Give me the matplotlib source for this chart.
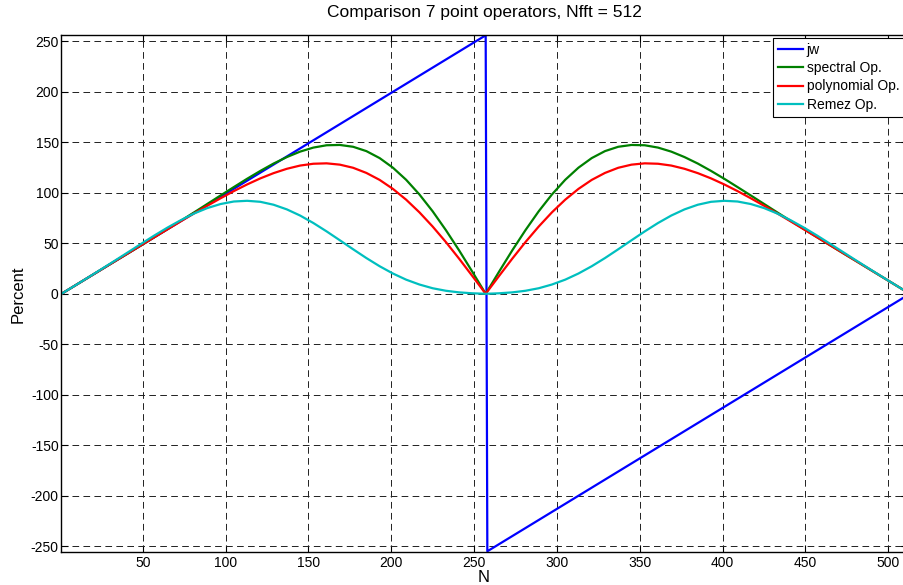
import matplotlib
matplotlib.use('Agg')
import matplotlib.pyplot as plt

# ---- data ----
title_text = 'Comparison 7 point operators, Nfft = 512'
xlabel_text = 'N'
ylabel_text = 'Percent'

N_jw = [1, 257, 258, 512]
jw = [0, 256, -255, -1]

N_ops = [1, 9, 17, 25, 33, 41, 49, 57, 65, 73, 81, 89, 97, 105, 113, 121, 129, 137, 145,
         153, 161, 169, 177, 185, 193, 201, 209, 217, 225, 233, 241, 249, 257,
         265, 273, 281, 289, 297, 305, 313, 321, 329, 337, 345, 353, 361, 369, 377, 385,
         393, 401, 409, 417, 425, 433, 441, 449, 457, 465, 473, 481, 489, 497, 505, 512]

spectral = [0, 8.0, 16.0, 24.0, 32.0, 39.9, 47.9, 56.0, 64.1, 72.3, 80.6, 89.0, 97.4, 105.7,
            113.9, 121.7, 129.0, 135.4, 140.8, 144.8, 147.1, 147.4, 145.6, 141.3, 134.4,
            124.9, 112.9, 98.4, 81.7, 63.0, 42.9, 21.7, 0,
            21.7, 42.9, 63.0, 81.7, 98.4, 112.9, 124.9, 134.4, 141.3, 145.6, 147.4, 147.1,
            144.8, 140.8, 135.4, 129.0, 121.7, 113.9, 105.7, 97.4, 89.0, 80.6, 72.3, 64.1,
            56.0, 47.9, 39.9, 32.0, 24.0, 16.0, 8.0, 1.0]

polynomial = [0, 8.0, 16.0, 24.0, 32.0, 40.0, 48.0, 56.0, 63.9, 71.8, 79.6, 87.2, 94.6, 101.7,
              108.3, 114.3, 119.5, 123.8, 127.0, 128.8, 129.2, 127.9, 124.8, 119.7, 112.8,
              103.9, 93.2, 80.7, 66.6, 51.2, 34.7, 17.5, 0,
              17.5, 34.7, 51.2, 66.6, 80.7, 93.2, 103.9, 112.8, 119.7, 124.8, 127.9, 129.2,
              128.8, 127.0, 123.8, 119.5, 114.3, 108.3, 101.7, 94.6, 87.2, 79.6, 71.8, 63.9,
              56.0, 48.0, 40.0, 32.0, 24.0, 16.0, 8.0, 1.0]

remez = [0, 8.0, 16.1, 24.3, 32.6, 41.0, 49.4, 57.7, 65.6, 72.9, 79.5, 84.9, 88.9, 91.4,
         92.1, 91.1, 88.2, 83.6, 77.5, 70.1, 61.8, 53.0, 44.1, 35.4, 27.3, 20.1, 14.0,
         9.2, 5.5, 3.0, 1.4, 0.5, 0,
         0.5, 1.4, 3.0, 5.5, 9.2, 14.0, 20.1, 27.3, 35.4, 44.1, 53.0, 61.8, 70.1, 77.5,
         83.6, 88.2, 91.1, 92.1, 91.4, 88.9, 84.9, 79.5, 72.9, 65.6, 57.7, 49.4, 41.0,
         32.6, 24.3, 16.1, 8.0, 1.0]

labels = ['jw', 'spectral Op.', 'polynomial Op.', 'Remez Op.']
colors = ['#0000ff', '#008000', '#ff0000', '#00bfbf']

xticks = list(range(50, 501, 50))
yticks = list(range(-250, 251, 50))

# ---- figure ----
plt.rcParams['font.family'] = ['Liberation Sans', 'DejaVu Sans']
plt.rcParams['lines.scale_dashes'] = False
plt.rcParams['axes.unicode_minus'] = False

W, H = 904, 585
fig = plt.figure(figsize=(W / 100, H / 100), dpi=100)
left, right, top, bottom = 61.5, 908.2, 35.3, 552.3
ax = fig.add_axes([left / W, 1 - bottom / H, (right - left) / W, (bottom - top) / H])

ax.plot(N_jw, jw, color=colors[0], lw=1.6, label=labels[0])
ax.plot(N_ops, spectral, color=colors[1], lw=1.6, label=labels[1])
ax.plot(N_ops, polynomial, color=colors[2], lw=1.6, label=labels[2])
ax.plot(N_ops, remez, color=colors[3], lw=1.6, label=labels[3])

ax.set_xlim(1, 512)
ax.set_ylim(-256, 256)
ax.set_xticks(xticks)
ax.set_yticks(yticks)
ax.set_axisbelow(True)
ax.grid(True, color='#202020', linestyle=(0, (4.8, 3.1)), linewidth=0.7)
ax.tick_params(direction='in', top=True, right=True, length=5, width=0.8,
               labelsize=10, colors='black')
ax.tick_params(axis='x', pad=3)
ax.tick_params(axis='y', pad=2)
for s in ax.spines.values():
    s.set_linewidth(1.0)
    s.set_color('black')

fig.text((left + right) / 2 / W, 1 - 12 / H, title_text, ha='center', va='center', fontsize=12.5)
fig.text(484 / W, 1 - 578 / H, xlabel_text, ha='center', va='center', fontsize=12)
fig.text(18 / W, 1 - 294 / H, ylabel_text, ha='center', va='center', rotation=90, fontsize=12)

leg = ax.legend(loc='upper left', bbox_to_anchor=(773.3 / W, 1 - 38.3 / H),
                bbox_transform=fig.transFigure, fontsize=10, frameon=True, fancybox=False,
                edgecolor='black', framealpha=1, borderpad=0.35, handlelength=1.8,
                handletextpad=0.25, labelspacing=0.3, borderaxespad=0)
leg.get_frame().set_linewidth(0.8)

fig.savefig('out.png', dpi=100)
